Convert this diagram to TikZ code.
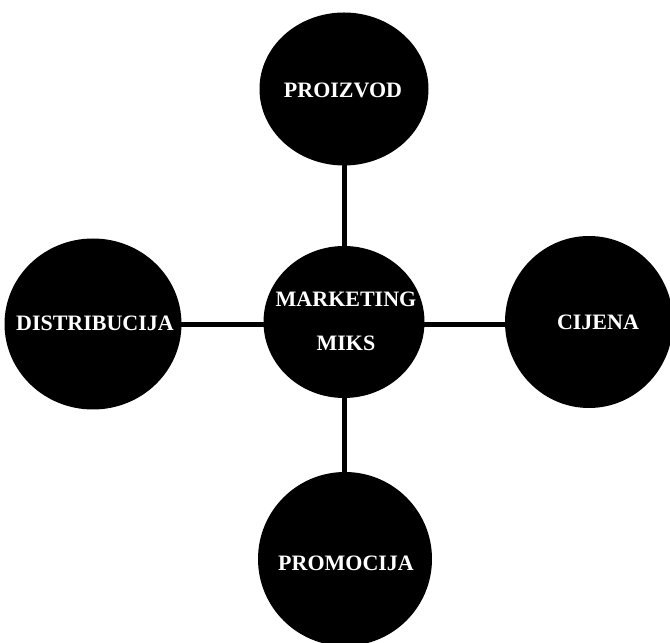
\documentclass[tikz,border=0pt]{standalone}
\usepackage{fontspec}
\setmainfont{Liberation Serif}
\usetikzlibrary{shapes.geometric,backgrounds}
\tikzset{
  blob/.style={ellipse, fill=black, draw=none, inner sep=0pt},
  lbl/.style={text=white, font=\bfseries\fontsize{22}{44}\selectfont, align=center, inner sep=0pt},
  link/.style={draw=black, line width=5pt}
}
\begin{document}
\begin{tikzpicture}[x=1pt,y=1pt]
\useasboundingbox (0,0) rectangle (670,643);
\node[blob, minimum width=169pt, minimum height=153pt] (proizvod) at (344,554) {};
\node[blob, minimum width=161pt, minimum height=152pt] (miks) at (344,321) {};
\node[blob, minimum width=177pt, minimum height=171pt] (distribucija) at (93,319) {};
\node[blob, minimum width=168pt, minimum height=172pt] (cijena) at (589,321) {};
\node[blob, minimum width=174pt, minimum height=174pt] (promocija) at (345,84) {};
\begin{scope}[on background layer]
  \draw[link] (proizvod.center) -- (proizvod.center |- miks.center);
  \draw[link] (miks.center) -- (promocija.center -| miks.center);
  \draw[link] (distribucija.center |- 0,318) -- (cijena.center |- 0,318);
\end{scope}
\node[lbl] (tProizvod) at (343,553) {PROIZVOD};
\node[lbl] (tMiks) at (346,322) {MARKETING\\MIKS};
\node[lbl] (tDistribucija) at (95,320) {DISTRIBUCIJA};
\node[lbl] (tCijena) at (598,321) {CIJENA};
\node[lbl] (tPromocija) at (346,80) {PROMOCIJA};
\end{tikzpicture}
\end{document}
